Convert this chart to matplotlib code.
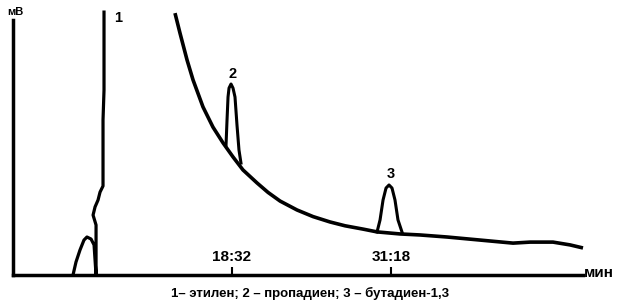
import matplotlib
matplotlib.use('Agg')
import matplotlib.pyplot as plt

# trace: time in minutes, signal in mV (arbitrary scale)
peak1_time = [5.76, 6.00, 6.32, 6.64, 6.88, 7.21, 7.45, 7.61, 7.61, 7.37, 7.53, 7.77, 7.93, 8.17, 8.17, 8.25, 8.25]
peak1_signal = [0, 5.1, 9.8, 13.7, 14.9, 14.1, 11.8, 0, 19.6, 23.5, 26.7, 29.4, 32.5, 34.9, 60.8, 72.5, 103.1]

base_time = [13.95, 14.35, 14.92, 15.40, 16.20, 17.00, 17.81, 18.61, 19.41, 20.54, 21.42, 22.39, 23.75, 25.04,
             26.40, 27.61, 29.05, 30.18, 32.02, 33.63, 35.80, 38.45, 41.10, 42.47, 44.31, 45.68, 46.72]
base_signal = [102.7, 94.9, 84.3, 76.5, 65.9, 58.0, 51.8, 46.3, 41.2, 36.1, 32.4, 29.0, 25.5, 22.9,
               20.8, 19.3, 18.0, 16.9, 16.1, 15.7, 14.9, 13.7, 12.5, 12.9, 12.9, 11.8, 10.6]

peak2_time = [18.05, 18.13, 18.21, 18.29, 18.45, 18.61, 18.77, 18.93, 19.09, 19.25]
peak2_signal = [51.0, 60.8, 69.8, 73.3, 74.9, 73.3, 69.8, 58.8, 49.0, 43.9]

peak3_time = [30.18, 30.42, 30.66, 30.90, 31.14, 31.38, 31.62, 31.86, 32.18]
peak3_signal = [16.9, 21.6, 29.4, 34.1, 35.3, 34.1, 29.4, 21.6, 16.9]

tick_times = [18.53, 31.30]
tick_labels = ['18:32', '31:18']

peak_names = ['1', '2', '3']
peak_label_time = [9.37, 18.61, 31.30]
peak_label_signal = [100.8, 78.8, 39.6]

caption = '1– этилен; 2 – пропадиен; 3 – бутадиен-1,3'

plt.rcParams['font.family'] = ['Liberation Sans', 'DejaVu Sans']
plt.rcParams['font.weight'] = 'bold'

fig = plt.figure(figsize=(6.2, 3.03), dpi=100)
ax = fig.add_axes([13/620, 28/303, 570/620, 255/303])

ax.plot(peak1_time, peak1_signal, color='black', lw=2.3, clip_on=False, solid_joinstyle='round')
ax.plot(base_time, base_signal, color='black', lw=2.6, clip_on=False, solid_capstyle='butt')
ax.plot(peak2_time, peak2_signal, color='black', lw=2.2, clip_on=False)
ax.plot(peak3_time, peak3_signal, color='black', lw=2.2, clip_on=False)

for name, t, s in zip(peak_names, peak_label_time, peak_label_signal):
    ax.text(t, s, name, ha='center', va='center', fontsize=10.5, fontweight='bold')

ax.set_xlim(0.94, 46.72)
ax.set_ylim(0, 100)
for side in ['top', 'right']:
    ax.spines[side].set_visible(False)
for side in ['left', 'bottom']:
    ax.spines[side].set_linewidth(2.5)
ax.set_yticks([])
ax.set_xticks(tick_times, tick_labels)
ax.tick_params(axis='x', direction='in', length=6, width=1.5, pad=-8, labelsize=11)
for lbl in ax.get_xticklabels():
    lbl.set_verticalalignment('bottom')
    lbl.set_fontweight('bold')

fig.text(15/620, 1 - 12/303, 'мВ', ha='center', va='center', fontsize=8, fontweight='bold')
fig.text(599/620, 1 - 273/303, 'мин', ha='center', va='center', fontsize=11, fontweight='bold')
fig.text(310/620, 1 - 293/303, caption, ha='center', va='center', fontsize=9.5, fontweight='bold')

fig.savefig('out.png', dpi=100, facecolor='white')
